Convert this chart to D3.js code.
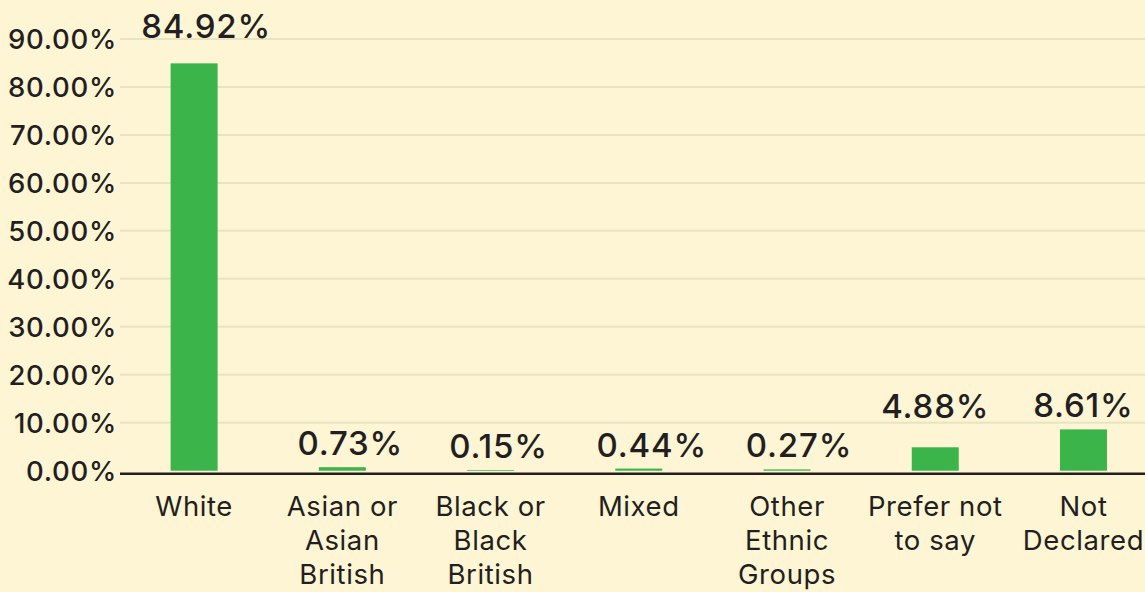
<!DOCTYPE html>
<html>
<head>
<meta charset="utf-8">
<script src="https://cdn.jsdelivr.net/npm/d3@7"></script>
<style>
  html, body { margin: 0; padding: 0; background: #fdf5d4; }
  svg { display: block; }
</style>
</head>
<body>
<svg id="chart" width="1145" height="592"></svg>
<script>
const categories = ["White", "Asian or Asian British", "Black or Black British", "Mixed", "Other Ethnic Groups", "Prefer not to say", "Not Declared"];
const categoryLines = [["White"], ["Asian or", "Asian", "British"], ["Black or", "Black", "British"], ["Mixed"], ["Other", "Ethnic", "Groups"], ["Prefer not", "to say"], ["Not", "Declared"]];
const values = [84.92, 0.73, 0.15, 0.44, 0.27, 4.88, 8.61];
const tickValues = [0, 10, 20, 30, 40, 50, 60, 70, 80, 90];
const tickLabels = ["0.00%", "10.00%", "20.00%", "30.00%", "40.00%", "50.00%", "60.00%", "70.00%", "80.00%", "90.00%"];
const valueLabels = ["84.92%", "0.73%", "0.15%", "0.44%", "0.27%", "4.88%", "8.61%"];

// layout
const W = 1145, H = 592;
const left = 120, right = 1157.6, y0 = 470.7, yTop = 39;
const ink = "#231f20";
const font = "Inter, 'Open Sans', sans-serif";
// label nudges (layout only)
const labelLift = {"White": 25, "Prefer not to say": 29};
const labelDx = {"White": 12, "Asian or Asian British": 8, "Black or Black British": 8, "Mixed": 13, "Other Ethnic Groups": 12};

const svg = d3.select("#chart");
svg.append("rect").attr("width", W).attr("height", H).attr("fill", "#fdf5d4");

const x = d3.scaleBand().domain(categories).range([left, right]).paddingInner(0.683).paddingOuter(0.3415);
const y = d3.scaleLinear().domain([0, 90]).range([y0, yTop]);

// gridlines
svg.append("g").selectAll("line").data(tickValues.filter(d => d > 0)).join("line")
  .attr("x1", left).attr("x2", W)
  .attr("y1", d => y(d)).attr("y2", d => y(d))
  .attr("stroke", "#e8e4c2").attr("stroke-width", 2);

// y axis labels
const yAxis = d3.axisLeft(y).tickValues(tickValues).tickFormat((d, i) => tickLabels[i]).tickSize(0).tickPadding(0);
const ga = svg.append("g").attr("transform", `translate(117,0)`).call(yAxis);
ga.select(".domain").remove();
ga.selectAll("text")
  .attr("font-family", font).attr("font-size", 27.5).attr("font-weight", 500)
  .attr("fill", ink).attr("letter-spacing", "0.7px")
  .attr("dy", "0.36em");

// bars
svg.append("g").selectAll("rect").data(values).join("rect")
  .attr("x", (d, i) => x(categories[i]))
  .attr("width", x.bandwidth())
  .attr("y", d => y(d))
  .attr("height", d => y0 - y(d))
  .attr("fill", "#3bb54a");

// baseline axis
svg.append("line").attr("x1", left).attr("x2", W).attr("y1", y0 + 3).attr("y2", y0 + 3)
  .attr("stroke", ink).attr("stroke-width", 2.5);

// value labels
svg.append("g").selectAll("text").data(values).join("text")
  .attr("x", (d, i) => x(categories[i]) + x.bandwidth() / 2 + (labelDx[categories[i]] || 0))
  .attr("y", (d, i) => y(d) - (labelLift[categories[i]] || 12))
  .attr("text-anchor", "middle")
  .attr("font-family", font).attr("font-size", 33).attr("font-weight", 500)
  .attr("fill", ink).attr("letter-spacing", "0.8px")
  .text((d, i) => valueLabels[i]);

// category labels
const cg = svg.append("g").selectAll("text").data(categories).join("text")
  .attr("x", d => x(d) + x.bandwidth() / 2)
  .attr("y", 516)
  .attr("text-anchor", "middle")
  .attr("font-family", font).attr("font-size", 27.5).attr("font-weight", 400)
  .attr("fill", ink).attr("letter-spacing", "0.6px");
cg.each(function(d, i) {
  const t = d3.select(this);
  categoryLines[i].forEach((line, j) => {
    t.append("tspan").attr("x", x(d) + x.bandwidth() / 2).attr("dy", j === 0 ? 0 : 34).text(line);
  });
});
</script>
</body>
</html>
